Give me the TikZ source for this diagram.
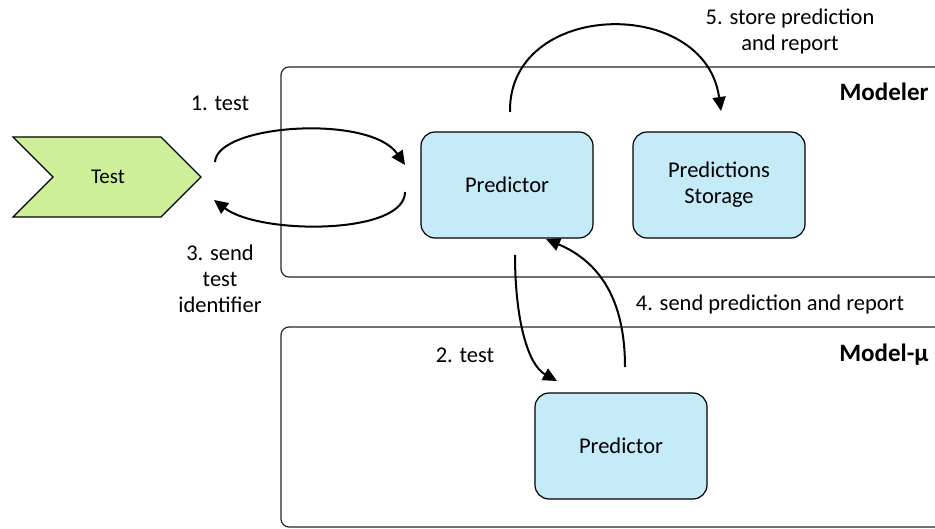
\documentclass[tikz,border=0pt]{standalone}
\usepackage{fontspec}
\setmainfont{Carlito}
\usetikzlibrary{arrows.meta}

\definecolor{boxblue}{HTML}{C5EAF8}
\definecolor{chevgreen}{HTML}{CDEF9A}

\tikzset{
  container/.style={draw=black!85, line width=1.2pt, rounded corners=8pt},
  compbox/.style={draw=black, line width=1.2pt, fill=boxblue, rounded corners=14pt,
    minimum width=172pt, minimum height=106pt, align=center,
    font=\fontsize{22.5}{26}\selectfont},
  flow/.style={line width=2pt, -{Triangle[length=14pt,width=13pt]}},
  lbl/.style={font=\fontsize{22.5}{26}\selectfont, align=center},
  title/.style={font=\fontsize{25}{28}\selectfont\bfseries, anchor=east},
}

\begin{document}
\begin{tikzpicture}[x=1pt,y=-1pt]
  \useasboundingbox (0,0) rectangle (935,529);
  \clip (0,0) rectangle (935,529);

  % swimlanes
  \draw[container] (281,67) rectangle (960,277);
  \draw[container] (281,327) rectangle (960,527);
  \node[title] (modeler) at (932,92) {Modeler};
  \node[title] (modelmu) at (932,355) {Model-µ};

  % test chevron
  \draw[fill=chevgreen, line width=1.2pt, line join=miter]
    (13,137) -- (161,137) -- (201,177) -- (161,217) -- (13,217) -- (53,177) -- cycle;
  \node[font=\fontsize{21}{24}\selectfont] (test) at (108,177) {Test};

  % components
  \node[compbox] (pred) at (507,185) {Predictor};
  \node[compbox] (store) at (719,185) {Predictions\\Storage};
  \node[compbox] (predmu) at (621,446) {Predictor};

  % connector end points
  \coordinate (t1s) at (215,162);
  \coordinate (t1e) at (405,165);
  \coordinate (t3s) at (405,192);
  \coordinate (t3e) at (214,200);
  \coordinate (t5s) at (510,112);
  \coordinate (t5e) at (721,111);
  \coordinate (t2s) at (515,255);
  \coordinate (t2e) at (557,381);
  \coordinate (t4s) at (625,367);
  \coordinate (t4e) at (546,239);

  % flows
  \draw[flow] (t1s) .. controls (217,124) and (370,114) .. (t1e);
  \draw[flow] (t3s) .. controls (405,235) and (260,235) .. (t3e);
  \draw[flow] (t5s) .. controls (508,0) and (705,-5) .. (t5e);
  \draw[flow] (t2s) .. controls (515,320) and (528,365) .. (t2e);
  \draw[flow] (t4s) .. controls (625,300) and (600,262) .. (t4e);

  % flow labels
  \node[lbl] (l1) at (220,103) {1. test};
  \node[lbl] (l3) at (220,279) {3. send\\test\\identifier};
  \node[lbl] (l5) at (790,32) {5. store prediction\\and report};
  \node[lbl] (l2) at (465,355) {2. test};
  \node[lbl] (l4) at (770,305) {4. send prediction and report};
\end{tikzpicture}
\end{document}
